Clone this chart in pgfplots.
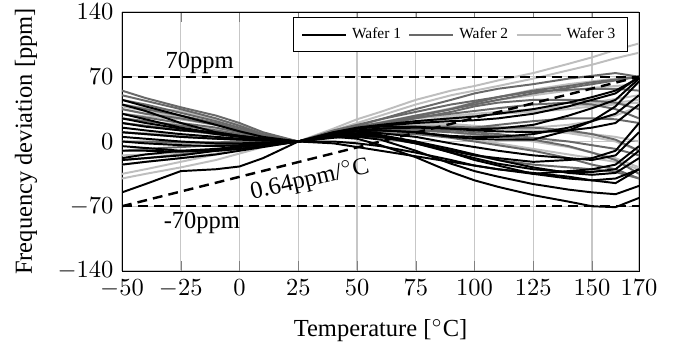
\documentclass[border=0pt]{standalone}
\usepackage{fontspec}
\setmainfont{Liberation Serif}
\usepackage{pgfplots}
\usepackage{pgfplotstable}
\pgfplotsset{compat=1.18}
\definecolor{wone}{RGB}{0,0,0}
\definecolor{wtwo}{RGB}{105,105,105}
\definecolor{wthree}{RGB}{190,190,190}

\pgfplotstableread{
T c1 c2 c3 c4 c5 c6 c7 c8 c9 c10 c11 c12 c13 c14 c15
-50 -55 10 -18 25 5 -20 40 15 -5 30 -10 20 0 -25 45
-40 -46 8 -14 20 3 -18 33 12 -7 24 -10 16 -2 -22 38
-25 -32 5 -10 14 0 -15 20 8 -10 15 -11 12 -4 -18 28
-10 -30 3 -8 8 -2 -10 10 5 -10 9 -9 10 -5 -14 18
0 -27 2 -5 5 -2 -8 6 3 -8 6 -6 6 -4 -10 11
10 -18 1 -3 3 -1 -5 3 2 -5 3 -3 3 -2 -6 5
25 0 0 0 0 0 0 0 0 0 0 0 0 0 0 0
40 4 5 5 6 8 9 8 10 7 6 0 8 10 -2 6
50 6 3 5 8 12 14 11 15 9 8 -2 11 14 -6 7
60 5 -4 2 7 14 17 12 18 9 6 -5 12 16 -10 5
75 0 -17 -10 0 15 20 10 22 5 -2 -12 10 16 -16 -2
90 -8 -33 -24 -12 14 22 5 25 -2 -12 -20 6 14 -22 -10
100 -14 -42 -32 -20 13 23 3 27 -6 -18 -26 5 12 -26 -15
110 -20 -49 -38 -26 14 25 2 30 -10 -24 -30 5 11 -30 -18
125 -28 -58 -46 -35 18 30 2 35 -15 -30 -35 8 10 -34 -22
140 -34 -65 -52 -40 28 38 12 42 -18 -33 -32 15 12 -38 -20
150 -36 -70 -55 -42 36 45 22 48 -20 -33 -30 22 15 -42 -18
160 -34 -71 -57 -40 45 52 38 55 -15 -30 -25 30 20 -45 -10
170 -18 -61 -48 -30 68 70 65 69 10 -10 -5 50 40 -30 20
}\waferA

\pgfplotstableread{
T c1 c2 c3 c4 c5 c6 c7 c8 c9 c10 c11 c12
-50 55 50 35 20 -10 40 10 30 -20 45 25 0
-40 47 44 30 17 -8 35 8 26 -18 40 22 0
-25 37 35 25 12 -6 28 5 20 -14 31 17 -1
-10 28 25 18 8 -4 20 3 15 -10 22 12 -1
0 20 17 12 5 -3 13 2 10 -7 15 8 0
10 10 8 6 2 -1 6 1 5 -4 7 4 0
25 0 0 0 0 0 0 0 0 0 0 0 0
40 10 10 12 6 7 9 8 10 5 7 8 11
50 15 17 18 8 10 14 12 15 6 10 11 16
60 20 24 24 9 12 18 14 20 4 11 13 20
75 28 35 32 8 12 25 16 27 -2 12 14 26
90 35 45 40 4 10 32 16 35 -10 13 12 30
100 40 52 44 0 8 38 15 42 -15 15 10 33
110 45 57 48 -4 6 42 15 48 -20 18 8 36
125 52 62 55 -10 2 45 15 54 -25 22 4 40
140 58 68 60 -18 -5 45 12 56 -28 25 0 42
150 62 71 64 -25 -12 44 8 57 -30 25 -4 40
160 66 74 67 -30 -20 42 2 57 -33 24 -8 35
170 70 70 70 -40 -35 35 -10 55 -40 20 -15 25
}\waferB

\pgfplotstableread{
T c1 c2 c3 c4 c5 c6 c7 c8 c9 c10 c11 c12
-50 40 30 -35 -40 20 35 -15 10 38 -25 0 25
-40 36 27 -30 -35 17 30 -14 9 33 -22 -1 22
-25 33 24 -22 -28 13 24 -12 7 26 -18 -2 18
-10 24 18 -14 -20 9 19 -9 5 20 -13 -2 13
0 18 13 -9 -13 6 14 -6 3 14 -9 -1 9
10 9 6 -4 -6 3 7 -3 2 7 -4 0 5
25 0 0 0 0 0 0 0 0 0 0 0 0
40 14 12 10 8 11 10 9 8 11 7 10 9
50 24 20 15 12 16 14 13 11 16 10 14 13
60 32 28 20 14 20 17 16 12 21 11 18 15
75 45 40 27 16 25 19 20 12 28 10 22 17
90 55 50 35 16 28 19 24 10 36 6 26 17
100 60 55 40 15 30 17 27 7 42 2 28 16
110 66 60 45 14 32 15 30 4 48 -2 30 15
125 74 68 50 12 35 12 34 0 56 -8 32 15
140 84 77 55 10 38 9 38 -6 62 -14 35 18
150 91 83 58 8 40 5 42 -12 65 -18 38 22
160 99 90 60 5 42 0 46 -18 68 -22 40 28
170 106 96 62 0 45 -10 50 -28 70 -30 42 38
}\waferC

\begin{document}
\begin{tikzpicture}
\begin{axis}[
  scale only axis,
  width=211pt, height=105.7pt,
  xmin=-50, xmax=170, ymin=-140, ymax=140,
  xtick={-50,-25,0,25,50,75,100,125,150,170},
  ytick={-140,-70,0,70,140},
  grid=major,
  major grid style={black!22, line width=0.5pt},
  xlabel={Temperature [$^\circ$C]},
  ylabel={Frequency deviation [ppm]},
  xlabel style={yshift=-2pt},
  ylabel style={yshift=1.5pt},
  legend columns=-1,
  legend style={at={(rel axis cs:0.979,0.98)}, anchor=north east,
    font=\fontsize{6.3}{7.3}\selectfont, draw=black,
    /tikz/every even column/.append style={column sep=1pt}},
  legend image code/.code={\draw[#1] (0pt,0pt) -- (18pt,0pt);},
  every axis plot/.append style={line width=0.8pt, line join=round},
]
\addlegendimage{wone, line width=0.8pt}
\addlegendentry{Wafer 1}
\addlegendimage{wtwo, line width=0.8pt}
\addlegendentry{Wafer 2}
\addlegendimage{wthree, line width=0.8pt}
\addlegendentry{Wafer 3}

\pgfplotsinvokeforeach{1,...,12}{\addplot[wthree, forget plot] table[x=T, y=c#1]{\waferC};}
\pgfplotsinvokeforeach{1,...,12}{\addplot[wtwo, forget plot] table[x=T, y=c#1]{\waferB};}
\pgfplotsinvokeforeach{1,...,15}{\addplot[wone, forget plot] table[x=T, y=c#1]{\waferA};}

\addplot[black, line width=1pt, dash pattern=on 4pt off 2.5pt, forget plot] coordinates {(-50,70) (170,70)};
\addplot[black, line width=1pt, dash pattern=on 4pt off 2.5pt, forget plot] coordinates {(-50,-70) (170,-70)};
\addplot[black, line width=1pt, dash pattern=on 4pt off 2.5pt, forget plot] coordinates {(-50,-70) (170,70)};

\node at (axis cs:-17,85) {70ppm};
\node at (axis cs:-16,-88) {-70ppm};
\node[rotate=13] at (axis cs:30,-42) {0.64ppm/$^\circ$C};
\coordinate (AA) at (rel axis cs:0,0);
\coordinate (BB) at (rel axis cs:1,1);
\end{axis}
\pgfresetboundingbox
\path ([xshift=-49.8pt,yshift=-30.2pt]AA) rectangle ([xshift=15.9pt,yshift=4.9pt]BB);
\end{tikzpicture}
\end{document}
